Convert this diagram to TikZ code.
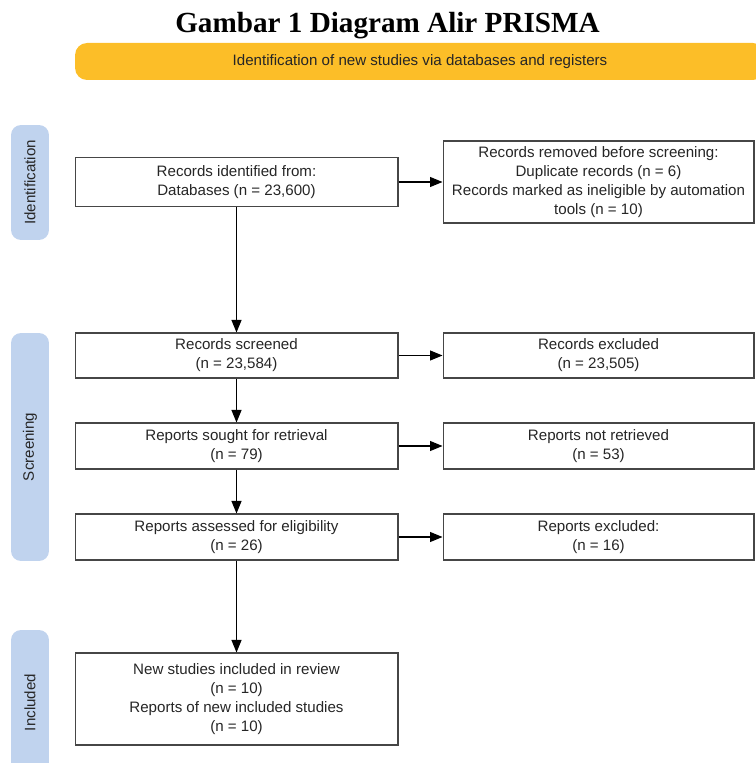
\documentclass[tikz,border=0pt]{standalone}
\usepackage{fontspec}
\setmainfont{Liberation Serif}
\setsansfont{Liberation Sans}
\usetikzlibrary{arrows.meta}

\definecolor{prismaorange}{RGB}{252,190,40}
\definecolor{prismablue}{RGB}{192,211,238}
\definecolor{boxline}{RGB}{70,70,70}

\tikzset{
  flowfont/.style={font=\sffamily\fontsize{8.6}{10.8}\selectfont, text=black!85},
  box/.style={flowfont, draw=boxline, line width=0.6pt, fill=white, align=center,
    inner sep=2pt, minimum width=6.46cm},
  sidebox/.style={box, minimum width=6.22cm},
  phase/.style={flowfont, fill=prismablue, rounded corners=0.2cm, rotate=90,
    minimum height=0.76cm, inner sep=0pt},
  arr/.style={-{Triangle[length=0.25cm,width=0.2cm]}, line width=0.6pt, black}
}

\begin{document}
\begin{tikzpicture}[x=0.02cm,y=-0.02cm]
  \useasboundingbox (0,0) rectangle (755,763);

  % title and banner
  \node[anchor=base, font=\bfseries\fontsize{16.6}{20}\selectfont] (title) at (387.5,33) {Gambar 1 Diagram Alir PRISMA};
  \node[flowfont, fill=prismaorange, rounded corners=0.24cm, minimum width=13.8cm, minimum height=0.74cm] (banner) at (420,61.5) {Identification of new studies via databases and registers};

  % phases
  \node[phase, minimum width=2.3cm] (phid) at (30,182.5) {Identification};
  \node[phase, minimum width=4.56cm] (phscr) at (30,447) {Screening};
  \node[phase, minimum width=2.9cm] (phinc) at (30,702.5) {Included};

  % main column
  \node[box, minimum height=0.98cm] (ident) at (236.5,182) {Records identified from:\\Databases (n = 23,600)};
  \node[box, minimum height=0.9cm] (screened) at (236.5,355.5) {Records screened\\(n = 23,584)};
  \node[box, minimum height=0.92cm] (sought) at (236.5,446) {Reports sought for retrieval\\(n = 79)};
  \node[box, minimum height=0.92cm] (assessed) at (236.5,537) {Reports assessed for eligibility\\(n = 26)};
  \node[box, minimum height=1.84cm] (included) at (236.5,699) {New studies included in review\\(n = 10)\\Reports of new included studies\\(n = 10)};

  % side column
  \node[sidebox, minimum height=1.64cm] (removed) at (598.5,182) {Records removed before screening:\\Duplicate records (n = 6)\\Records marked as ineligible by automation\\tools (n = 10)};
  \node[sidebox, minimum height=0.9cm] (excluded) at (598.5,355.5) {Records excluded\\(n = 23,505)};
  \node[sidebox, minimum height=0.92cm] (notret) at (598.5,446) {Reports not retrieved\\(n = 53)};
  \node[sidebox, minimum height=0.92cm] (repexcl) at (598.5,537) {Reports excluded:\\(n = 16)};

  % arrows
  \draw[arr] (ident) -- (screened);
  \draw[arr] (screened) -- (sought);
  \draw[arr] (sought) -- (assessed);
  \draw[arr] (assessed) -- (included);
  \draw[arr] (ident) -- (removed);
  \draw[arr] (screened) -- (excluded);
  \draw[arr] (sought) -- (notret);
  \draw[arr] (assessed) -- (repexcl);
\end{tikzpicture}
\end{document}
